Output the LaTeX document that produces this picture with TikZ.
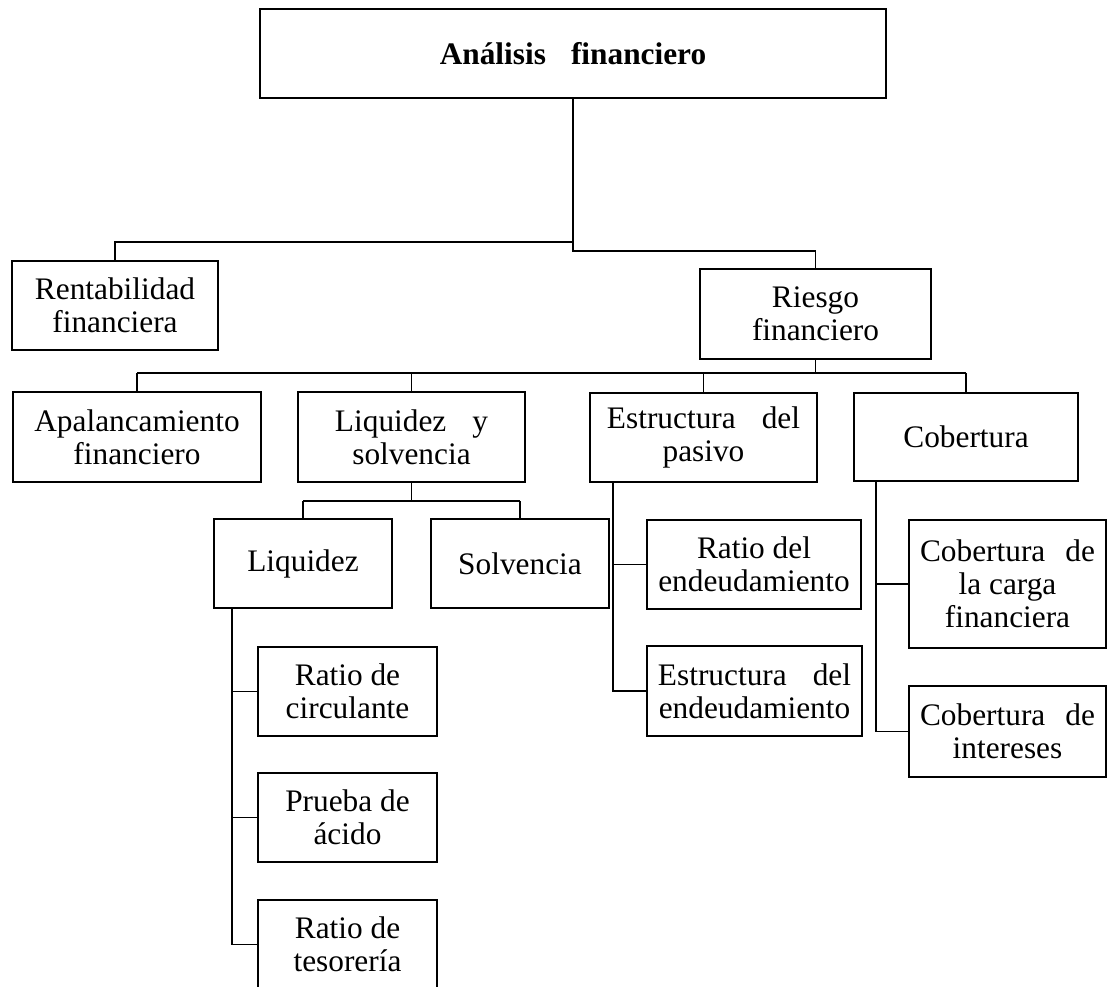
\documentclass[tikz,border=0pt]{standalone}
\usepackage{fontspec}
\setmainfont{Liberation Serif}
\newcommand\bx[6]{\node[box,minimum width={(#4-#2)*0.75pt},minimum height={(#5-#3)*0.75pt}] (#1) at ({(#2+#4)/2},{(#3+#5)/2}) {#6};}
\begin{document}
\begin{tikzpicture}[x=0.75pt,y=-0.75pt,
  box/.style={draw,line width=1.3pt,inner sep=0pt,align=center,font=\fontsize{23.5}{24.75}\selectfont},
  conn/.style={line width=1.3pt}]
\useasboundingbox (0,0) rectangle (1110,987);
\clip (0,0) rectangle (1110,987);
\fill[white] (0,0) rectangle (1110,987);
% boxes
\bx{title}{260}{9}{886}{98}{\textbf{Análisis\hspace{0.8em}financiero}}
\bx{rent}{12}{261}{218}{350}{Rentabilidad\\financiera}
\bx{riesgo}{700}{269}{931}{359}{Riesgo\\financiero}
\bx{apal}{13}{392}{261}{482}{Apalancamiento\\financiero}
\bx{lys}{298}{392}{525}{482}{Liquidez\hspace{0.83em}y\\solvencia}
\bx{estp}{590}{393}{817}{482}{Estructura\hspace{0.83em}del\\pasivo}
\bx{cob}{854}{393}{1078}{481}{Cobertura}
\bx{liq}{214}{519}{392}{608}{Liquidez}
\bx{solv}{431}{519}{609}{608}{Solvencia}
\bx{ratend}{647}{520}{861}{609}{Ratio del\\endeudamiento}
\bx{estend}{647}{646}{862}{736}{Estructura\hspace{0.83em}del\\endeudamiento}
\bx{carga}{909}{520}{1106}{648}{Cobertura\hspace{0.64em}de\\la carga\\financiera}
\bx{inter}{909}{686}{1106}{777}{Cobertura\hspace{0.64em}de\\intereses}
\bx{rc}{258}{647}{437}{736}{Ratio de\\circulante}
\bx{pa}{258}{773}{437}{862}{Prueba de\\ácido}
\bx{tes}{258}{900}{437}{989}{Ratio de\\tesorería}
% connectors
\coordinate (j1) at (573,242);
\coordinate (j2) at (573,251);
\draw[conn] (title.south) -- (j2) -| (riesgo.north);
\draw[conn] (j1) -| (rent.north);
\coordinate (b1) at (0,373);
\draw[conn] (riesgo.south) -- (riesgo.south |- b1);
\draw[conn] (apal.north |- b1) -- (cob.north |- b1);
\foreach \n in {apal,lys,estp,cob} \draw[conn] (\n.north |- b1) -- (\n.north);
\coordinate (b2) at (0,501);
\draw[conn] (lys.south) -- (lys.south |- b2);
\draw[conn] (liq.north |- b2) -- (solv.north |- b2);
\foreach \n in {liq,solv} \draw[conn] (\n.north |- b2) -- (\n.north);
\coordinate (lx) at (232,0);
\draw[conn] (liq.south -| lx) |- (tes.west);
\draw[conn] (rc.west -| lx) -- (rc.west);
\draw[conn] (pa.west -| lx) -- (pa.west);
\coordinate (ex) at (613,0);
\draw[conn] (estp.south -| ex) |- (estend.west);
\draw[conn] (ratend.west -| ex) -- (ratend.west);
\coordinate (cx) at (876,0);
\draw[conn] (cob.south -| cx) |- (inter.west);
\draw[conn] (carga.west -| cx) -- (carga.west);
\end{tikzpicture}
\end{document}
